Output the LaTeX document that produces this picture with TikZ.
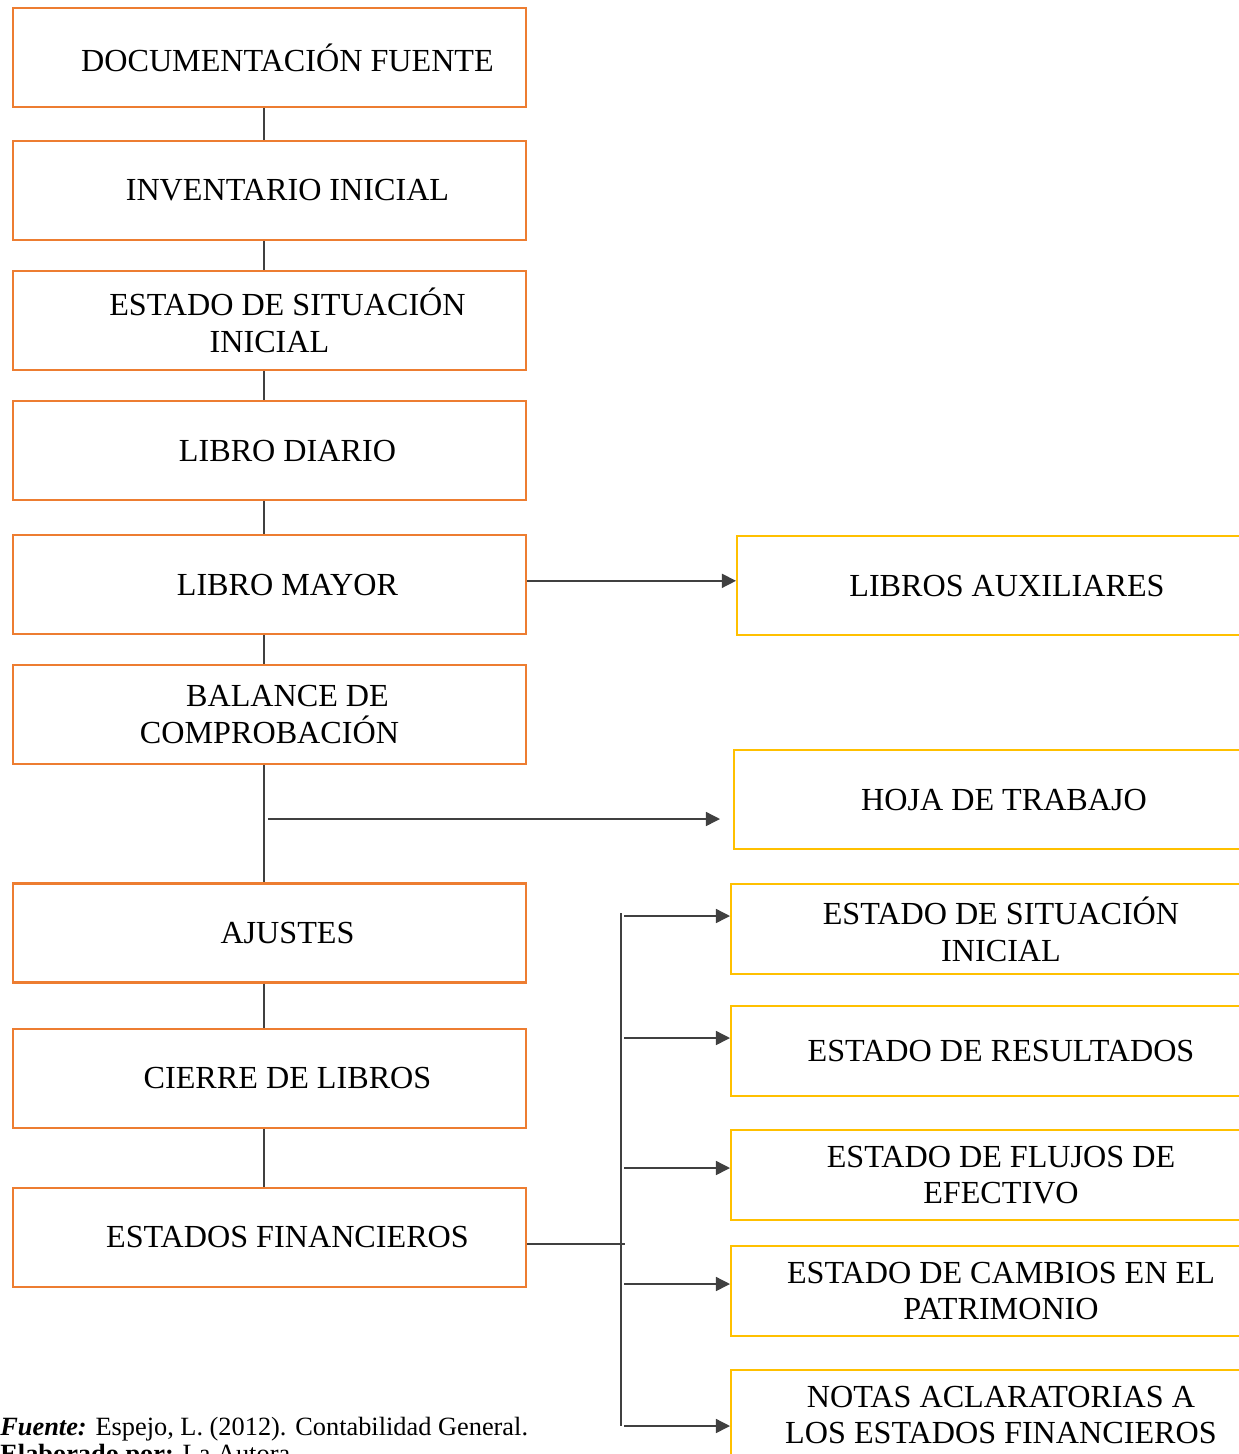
\documentclass[tikz,border=0pt]{standalone}
\usepackage{fontspec}
\setmainfont{Liberation Serif}
\usetikzlibrary{positioning, arrows.meta}
\definecolor{boxorange}{HTML}{ED7D31}
\definecolor{boxyellow}{HTML}{FFC000}
\definecolor{linegray}{HTML}{404040}
\newcommand{\ind}{\hspace*{0.72cm}}

\begin{document}
\begin{tikzpicture}[x=0.02cm, y=-0.02cm, >={Triangle[length=8pt,width=8pt]},
    every node/.style={font=\fontsize{18.3}{21}\selectfont, align=center},
    leftbox/.style={draw=boxorange, line width=1.2pt, minimum width=10.26cm, minimum height=1.98cm},
    rightbox/.style={draw=boxyellow, line width=1.2pt, minimum width=10.8cm, minimum height=1.8cm, anchor=north west},
    conn/.style={draw=linegray, line width=0.8pt}]
    \useasboundingbox (0,0) rectangle (1239,1454);

    \coordinate (spine) at (264,0);
    \coordinate (bus) at (621,0);

    % left column
    \node[leftbox] (doc) at (269.5,57.5) {\ind DOCUMENTACIÓN FUENTE};
    \node[leftbox] (inv) [below=0.64cm of doc] {\ind INVENTARIO INICIAL};
    \node[leftbox] (esi) [below=0.58cm of inv] {\ind ESTADO DE SITUACIÓN\\INICIAL};
    \node[leftbox] (diario) [below=0.58cm of esi] {\ind LIBRO DIARIO};
    \node[leftbox] (mayor) [below=0.66cm of diario] {\ind LIBRO MAYOR};
    \node[leftbox] (balance) [below=0.58cm of mayor] {\ind BALANCE DE\\COMPROBACIÓN};
    \node[leftbox] (ajustes) [below=2.34cm of balance] {\ind AJUSTES};
    \node[leftbox] (cierre) [below=0.88cm of ajustes] {\ind CIERRE DE LIBROS};
    \node[leftbox] (ef) [below=1.16cm of cierre] {\ind ESTADOS FINANCIEROS};

    % right column
    \node[rightbox, minimum height=1.98cm] (aux) at (736,535) {LIBROS AUXILIARES};
    \node[rightbox, minimum height=1.98cm] (hoja) at (733,749) {HOJA DE TRABAJO};
    \node[rightbox] (esi2) at (730,883) {ESTADO DE SITUACIÓN\\INICIAL};
    \node[rightbox] (res) at (730,1005) {ESTADO DE RESULTADOS};
    \node[rightbox] (flu) at (730,1129) {ESTADO DE FLUJOS DE\\EFECTIVO};
    \node[rightbox] (cam) at (730,1245) {ESTADO DE CAMBIOS EN EL\\PATRIMONIO};
    \node[rightbox] (notas) at (730,1369) {NOTAS ACLARATORIAS A\\LOS ESTADOS FINANCIEROS};

    % connectors
    \foreach \a/\b in {doc/inv, inv/esi, esi/diario, diario/mayor, mayor/balance, balance/ajustes, ajustes/cierre, cierre/ef}
        \draw[conn] (\a.south -| spine) -- (\b.north -| spine);
    \draw[conn, ->] ([yshift=0.08cm]mayor.east) -- ([yshift=0.08cm]mayor.east -| aux.west);
    \coordinate (hs) at (268,819);
    \draw[conn, ->, shorten >=0.26cm] (hs) -- (hoja.west |- hs);
    \draw[conn] ([yshift=-0.14cm]ef.east) -- ([yshift=-0.14cm, xshift=0.08cm]ef.east -| bus);
    \coordinate (bustop) at (621,913);
    \coordinate (busbot) at (621,1426);
    \draw[conn] (bustop) -- (busbot);
    \foreach \n/\y in {esi2/916, res/1038, flu/1168, cam/1284, notas/1426} {
        \coordinate (t) at (624,\y);
        \draw[conn, ->] (t) -- (\n.west |- t);
    }

    % source note
    \node[anchor=base west, inner sep=0pt, font=\fontsize{15}{18}\selectfont] (fuente) at (0,1435) {\textbf{\textit{Fuente:}} Espejo, L. (2012). Contabilidad General.};
    \node[anchor=base west, inner sep=0pt, font=\fontsize{15}{18}\selectfont] (elab) at (0,1462) {\textbf{Elaborado por:} La Autora};
\end{tikzpicture}
\end{document}
